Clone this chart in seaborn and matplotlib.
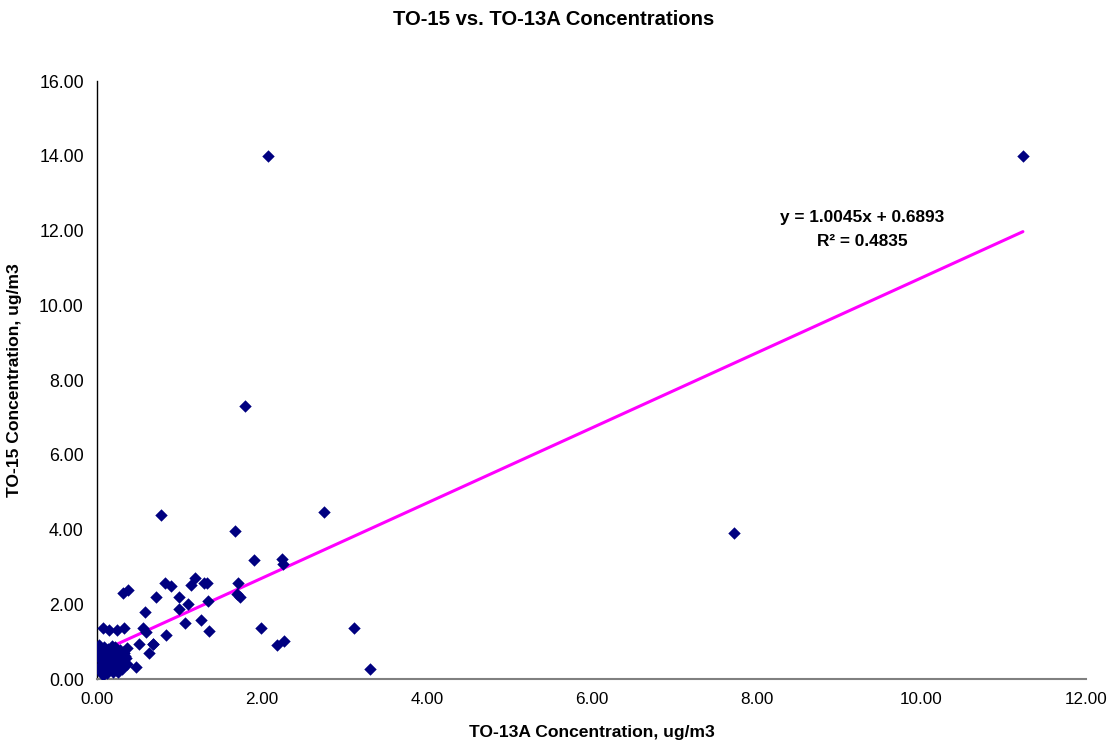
import matplotlib
matplotlib.use("Agg")
import matplotlib.pyplot as plt
import seaborn as sns
import pandas as pd
from matplotlib.ticker import FormatStrFormatter, MultipleLocator

# TO-13A (x) and TO-15 (y) paired concentrations, ug/m3
to13a = [
    11.23, 2.07, 1.80, 0.78, 1.68, 2.75, 7.73, 1.90, 2.24, 2.26,
    1.71, 1.70, 1.73, 0.31, 0.38, 0.72, 0.82, 0.90, 1.14, 1.19,
    1.30, 1.34, 1.00, 1.10, 1.00, 1.35, 0.58, 1.07, 1.26, 1.36,
    0.84, 0.68, 1.99, 3.12, 2.18, 2.27, 3.31, 0.07, 0.15, 0.24,
    0.33, 0.56, 0.59, 0.51, 0.68, 0.63, 0.37, 0.47,
    # dense cluster near the origin
    0.02, 0.04, 0.05, 0.06, 0.08, 0.09, 0.10, 0.11, 0.12, 0.13,
    0.14, 0.15, 0.16, 0.17, 0.18, 0.19, 0.20, 0.21, 0.22, 0.23,
    0.24, 0.25, 0.26, 0.27, 0.28, 0.29, 0.30, 0.31, 0.32, 0.34,
    0.03, 0.07, 0.09, 0.12, 0.14, 0.17, 0.20, 0.22, 0.25, 0.28,
    0.30, 0.35, 0.05, 0.10, 0.15, 0.19, 0.24, 0.27, 0.33, 0.36,
    0.02, 0.06, 0.11, 0.16, 0.21, 0.26, 0.04, 0.13, 0.18, 0.23,
]
to15 = [
    14.00, 14.00, 7.30, 4.39, 3.97, 4.47, 3.91, 3.18, 3.20, 3.08,
    2.58, 2.27, 2.19, 2.31, 2.38, 2.20, 2.58, 2.50, 2.51, 2.69,
    2.58, 2.58, 2.19, 2.00, 1.87, 2.10, 1.80, 1.49, 1.58, 1.29,
    1.18, 0.95, 1.36, 1.36, 0.91, 1.03, 0.27, 1.36, 1.31, 1.31,
    1.37, 1.36, 1.27, 0.95, 0.93, 0.69, 0.82, 0.33,
    # dense cluster near the origin
    0.58, 0.35, 0.72, 0.20, 0.85, 0.45, 0.30, 0.62, 0.15, 0.80,
    0.50, 0.25, 0.70, 0.40, 0.88, 0.20, 0.55, 0.35, 0.75, 0.25,
    0.60, 0.45, 0.20, 0.68, 0.38, 0.55, 0.28, 0.72, 0.48, 0.62,
    0.90, 0.10, 0.65, 0.40, 0.22, 0.58, 0.42, 0.85, 0.32, 0.78,
    0.40, 0.55, 0.50, 0.78, 0.35, 0.62, 0.30, 0.50, 0.70, 0.40,
    0.25, 0.60, 0.48, 0.52, 0.66, 0.36, 0.80, 0.28, 0.45, 0.55,
]

# Excel linear trendline as printed on the chart
slope = 1.0045
intercept = 0.6893
r_squared = 0.4835

df = pd.DataFrame({"TO-13A": to13a, "TO-15": to15})

sns.set_style("white")
plt.rcParams["font.family"] = ["Liberation Sans", "DejaVu Sans"]
plt.rcParams["text.color"] = "black"
plt.rcParams["axes.labelcolor"] = "black"

fig = plt.figure(figsize=(11.08, 7.48), dpi=100)
ax = fig.add_axes([0.0875, 0.0922, 0.8930, 0.7995])

sns.scatterplot(data=df, x="TO-13A", y="TO-15", ax=ax, marker="D",
                s=40, color="#000080", linewidth=0, zorder=3)

x_fit = [0, df["TO-13A"].max()]
y_fit = [intercept + slope * v for v in x_fit]
ax.plot(x_fit, y_fit, color="#FF00FF", linewidth=2.2, zorder=2)

ax.text(9.28, 12.04, f"y = {slope:.4f}x + {intercept:.4f}\nR\u00b2 = {r_squared:.4f}",
        ha="center", va="center", fontsize=12.4, fontweight="bold",
        linespacing=1.75, color="black")

ax.set_xlim(0, 12)
ax.set_ylim(0, 16)
ax.xaxis.set_major_locator(MultipleLocator(2))
ax.yaxis.set_major_locator(MultipleLocator(2))
ax.xaxis.set_major_formatter(FormatStrFormatter("%.2f"))
ax.yaxis.set_major_formatter(FormatStrFormatter("%.2f"))

for side in ["top", "right"]:
    ax.spines[side].set_visible(False)
ax.spines["left"].set_color("black")
ax.spines["bottom"].set_color("#808080")
ax.spines["left"].set_linewidth(1.0)
ax.spines["bottom"].set_linewidth(1.5)
ax.tick_params(axis="both", direction="out", length=4.5, width=1,
               labelsize=12.8, colors="black", pad=5)
ax.tick_params(axis="x", color="#808080", labelsize=12.3)

ax.set_xlabel("TO-13A Concentration, ug/m3", fontsize=12.6, fontweight="bold",
              labelpad=13)
ax.set_ylabel("TO-15 Concentration, ug/m3", fontsize=12.6, fontweight="bold",
              labelpad=12)
fig.suptitle("TO-15 vs. TO-13A Concentrations", x=0.5, y=0.987,
             fontsize=14.6, fontweight="bold", color="black")

fig.savefig("out.png", dpi=100)
